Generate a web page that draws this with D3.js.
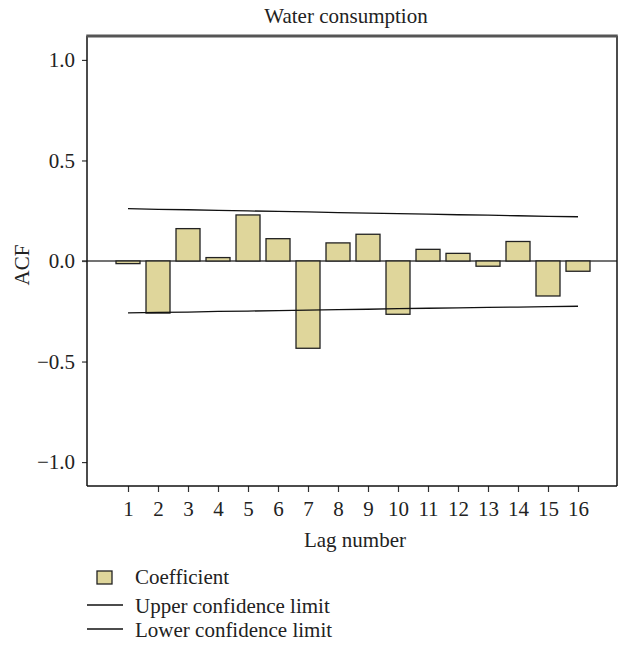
<!DOCTYPE html>
<html>
<head>
<meta charset="utf-8">
<script src="https://cdn.jsdelivr.net/npm/d3@7"></script>
<style>
  body { margin: 0; background: #fff; }
  text { font-family: "Liberation Serif", "DejaVu Serif", serif; fill: #222; }
</style>
</head>
<body>
<script>
// ACF data
var lags = [1, 2, 3, 4, 5, 6, 7, 8, 9, 10, 11, 12, 13, 14, 15, 16];
var coefficient = [-0.013, -0.259, 0.161, 0.017, 0.229, 0.111, -0.434, 0.090,
                   0.133, -0.265, 0.058, 0.038, -0.026, 0.097, -0.174, -0.051];
var upperLimit = [0.260, 0.257, 0.255, 0.252, 0.249, 0.247, 0.244, 0.241,
                  0.238, 0.236, 0.233, 0.230, 0.228, 0.225, 0.222, 0.220];
var lowerLimit = [-0.258, -0.256, -0.254, -0.251, -0.249, -0.247, -0.244, -0.242,
                  -0.240, -0.237, -0.235, -0.233, -0.231, -0.229, -0.227, -0.225];
var yTicks = [-1.0, -0.5, 0.0, 0.5, 1.0];

var w = 618,
    h = 646,
    pLeft = 87, pRight = 617, pTop = 36, pBottom = 486,
    fontSize = '21px';

var svg = d3.select('body')
            .append('svg')
            .attr('width', w)
            .attr('height', h);

var x = d3.scaleLinear().domain([-0.367, 17.3]).range([pLeft, pRight]);
var y = d3.scaleLinear().domain([-1.119, 1.119]).range([pBottom, pTop]);
var barW = 24;

// title
svg.append('text')
    .attr('x', 346)
    .attr('y', 23)
    .attr('text-anchor', 'middle')
    .attr('font-size', fontSize)
    .text('Water consumption');

// y axis
var yAxis = d3.axisLeft(y)
    .tickValues(yTicks)
    .tickSize(5)
    .tickPadding(7)
    .tickFormat(function(d){ return d3.format('.1f')(d).replace('-', '\u2212'); });

var gy = svg.append('g')
    .attr('transform', 'translate(' + pLeft + ',0)')
    .call(yAxis);
gy.select('.domain').remove();
gy.selectAll('line').attr('stroke', '#333').attr('stroke-width', 1.2);
gy.selectAll('text')
    .attr('font-size', fontSize)
    .attr('font-family', '"Liberation Serif", serif')
    .attr('fill', '#222');

// x axis
var xAxis = d3.axisBottom(x)
    .tickValues(lags)
    .tickSize(6)
    .tickPadding(9)
    .tickFormat(d3.format('d'));

var gx = svg.append('g')
    .attr('transform', 'translate(0,' + pBottom + ')')
    .call(xAxis);
gx.select('.domain').remove();
gx.selectAll('line').attr('stroke', '#333').attr('stroke-width', 1.2);
gx.selectAll('text')
    .attr('font-size', fontSize)
    .attr('font-family', '"Liberation Serif", serif')
    .attr('fill', '#222');

// axis titles
svg.append('text')
    .attr('x', 355)
    .attr('y', 547)
    .attr('text-anchor', 'middle')
    .attr('font-size', fontSize)
    .text('Lag number');

svg.append('text')
    .attr('transform', 'translate(29,265) rotate(-90)')
    .attr('text-anchor', 'middle')
    .attr('font-size', fontSize)
    .text('ACF');

// zero line
svg.append('line')
    .attr('x1', pLeft - 5)
    .attr('x2', pRight)
    .attr('y1', y(0))
    .attr('y2', y(0))
    .attr('stroke', '#444')
    .attr('stroke-width', 1.3);

// bars
svg.selectAll('rect.bar')
    .data(coefficient)
    .enter()
    .append('rect')
    .attr('class', 'bar')
    .attr('x', function(d, i){ return x(lags[i]) - barW / 2; })
    .attr('y', function(d){ return y(Math.max(0, d)); })
    .attr('width', barW)
    .attr('height', function(d){ return Math.abs(y(d) - y(0)); })
    .attr('fill', '#dfd69b')
    .attr('stroke', '#222')
    .attr('stroke-width', 1.3);

// confidence limits
var line = d3.line()
    .x(function(d, i){ return x(lags[i]); })
    .y(function(d){ return y(d); });

svg.append('path')
    .datum(upperLimit)
    .attr('d', line)
    .attr('fill', 'none')
    .attr('stroke', '#111')
    .attr('stroke-width', 1.3);

svg.append('path')
    .datum(lowerLimit)
    .attr('d', line)
    .attr('fill', 'none')
    .attr('stroke', '#111')
    .attr('stroke-width', 1.3);

// frame
svg.append('line').attr('x1', pLeft).attr('x2', pLeft).attr('y1', pTop).attr('y2', pBottom)
    .attr('stroke', '#111').attr('stroke-width', 1.5);
svg.append('line').attr('x1', pRight).attr('x2', pRight).attr('y1', pTop).attr('y2', pBottom)
    .attr('stroke', '#111').attr('stroke-width', 1.5);
svg.append('line').attr('x1', pLeft).attr('x2', pRight).attr('y1', pBottom).attr('y2', pBottom)
    .attr('stroke', '#111').attr('stroke-width', 1.5);
svg.append('line').attr('x1', pLeft - 0.75).attr('x2', pRight + 0.75).attr('y1', pTop).attr('y2', pTop)
    .attr('stroke', '#555').attr('stroke-width', 3);

// legend
var legend = svg.append('g');
legend.append('rect')
    .attr('x', 97).attr('y', 571)
    .attr('width', 15).attr('height', 13)
    .attr('fill', '#dfd69b')
    .attr('stroke', '#222')
    .attr('stroke-width', 1.3);
legend.append('text').attr('x', 135).attr('y', 584).attr('font-size', fontSize).text('Coefficient');

legend.append('line').attr('x1', 87).attr('x2', 123).attr('y1', 605).attr('y2', 605)
    .attr('stroke', '#111').attr('stroke-width', 1.3);
legend.append('text').attr('x', 135).attr('y', 613).attr('font-size', fontSize).text('Upper confidence limit');

legend.append('line').attr('x1', 87).attr('x2', 123).attr('y1', 629).attr('y2', 629)
    .attr('stroke', '#111').attr('stroke-width', 1.3);
legend.append('text').attr('x', 135).attr('y', 637).attr('font-size', fontSize).text('Lower confidence limit');
</script>
</body>
</html>
